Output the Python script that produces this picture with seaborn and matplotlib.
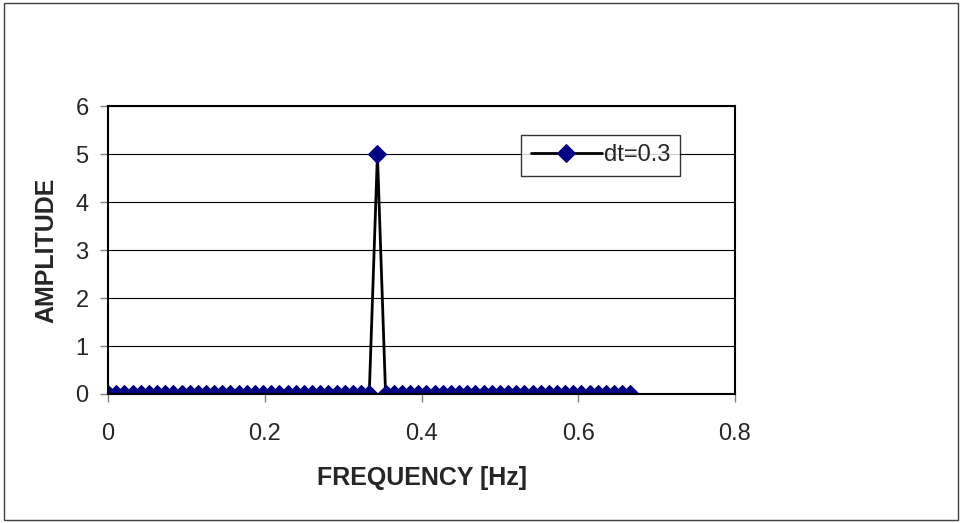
import numpy as np
import pandas as pd
import matplotlib
matplotlib.use('Agg')
import matplotlib.pyplot as plt
import seaborn as sns
from matplotlib.patches import Rectangle

# spectrum for dt=0.3 (65 frequency bins, df = 1/96 Hz)
n_bins = 65
df = 1 / 96
freq = np.arange(n_bins) * df
amplitude = [0, 0, 0, 0, 0, 0, 0, 0, 0, 0,
             0, 0, 0, 0, 0, 0, 0, 0, 0, 0,
             0, 0, 0, 0, 0, 0, 0, 0, 0, 0,
             0, 0, 0, 5, 0, 0, 0, 0, 0, 0,
             0, 0, 0, 0, 0, 0, 0, 0, 0, 0,
             0, 0, 0, 0, 0, 0, 0, 0, 0, 0,
             0, 0, 0, 0, 0]
series_label = 'dt=0.3'
x_ticks = [0, 0.2, 0.4, 0.6, 0.8]
x_tick_labels = ['0', '0.2', '0.4', '0.6', '0.8']
y_ticks = [0, 1, 2, 3, 4, 5, 6]

data = pd.DataFrame({'freq': freq, 'amp': amplitude})

sns.set_style('white')
plt.rcParams['font.family'] = ['Liberation Sans', 'DejaVu Sans']

fig = plt.figure(figsize=(9.62, 5.23), dpi=100)
ax = fig.add_axes([0.1123, 0.2467, 0.764 - 0.1123, 0.797 - 0.2467])

sns.lineplot(data=data, x='freq', y='amp', ax=ax, color='black', linewidth=2,
             marker='D', markersize=9.3, markerfacecolor='#000080',
             markeredgecolor='#000080', label=series_label)

ax.set_xlim(0, 0.8)
ax.set_ylim(0, 6)
ax.set_xticks(x_ticks)
ax.set_xticklabels(x_tick_labels)
ax.set_yticks(y_ticks)
ax.yaxis.grid(True, color='black', linewidth=0.8)
ax.set_axisbelow(True)
ax.tick_params(axis='both', direction='out', length=6, width=1, color='gray',
               labelsize=17, bottom=True, left=True)
ax.tick_params(axis='x', pad=15)
ax.tick_params(axis='y', pad=8)
for side in ['left', 'bottom', 'top', 'right']:
    ax.spines[side].set_color('black')
    ax.spines[side].set_linewidth(1.5)

ax.set_xlabel('FREQUENCY [Hz]', fontsize=18, fontweight='bold', labelpad=15)
ax.set_ylabel('AMPLITUDE', fontsize=18, fontweight='bold', labelpad=12)

leg = ax.legend(loc='upper right', bbox_to_anchor=(0.912, 0.9), fontsize=17,
                frameon=True, fancybox=False, handlelength=3.0,
                borderpad=0.4, handletextpad=0.1, borderaxespad=0)
leg.get_frame().set_edgecolor('black')
leg.get_frame().set_linewidth(1)

fig.add_artist(Rectangle((0.004, 0.006), 0.992, 0.988, transform=fig.transFigure,
                         fill=False, edgecolor='#404040', linewidth=1))

fig.savefig('out.png', dpi=100)
